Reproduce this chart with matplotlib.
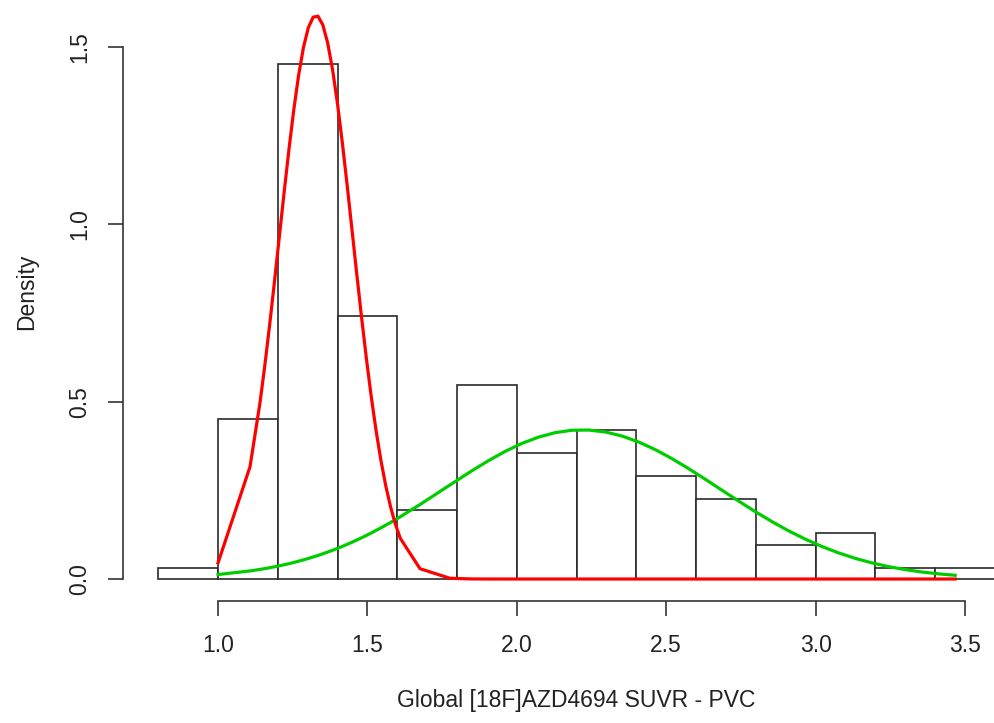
import numpy as np
import matplotlib
matplotlib.use("Agg")
import matplotlib.pyplot as plt

# histogram: bin edges and counts (n = 155, bin width 0.2)
edges = [0.8, 1.0, 1.2, 1.4, 1.6, 1.8, 2.0, 2.2, 2.4, 2.6, 2.8, 3.0, 3.2, 3.4, 3.6]
counts = [1, 14, 45, 23, 6, 17, 11, 13, 9, 7, 3, 4, 1, 1]

# fitted mixture components (mean, sd, weight)
red_comp = (1.328, 0.123, 0.49)
green_comp = (2.218, 0.46, 0.485)

# points where the fitted curves were evaluated
x_eval = np.concatenate([[1.0, 1.107], np.linspace(1.14, 1.61, 30),
                         [1.676, 1.776], np.linspace(1.85, 3.467, 30)])

xticks = [1.0, 1.5, 2.0, 2.5, 3.0, 3.5]
yticks = [0.0, 0.5, 1.0, 1.5]


def dens(x, comp):
    m, s, w = comp
    return w * np.exp(-0.5 * ((x - m) / s) ** 2) / (s * np.sqrt(2 * np.pi))


plt.rcParams['font.family'] = ['Liberation Sans', 'DejaVu Sans']

W, H = 995, 723
fig = plt.figure(figsize=(W / 100, H / 100), dpi=100)
# plot region in pixels: left 123, right 1029, bottom 601, top -15
ax = fig.add_axes([123 / W, (H - 601) / H, (1029 - 123) / W, (601 + 15) / H])
ax.set_xlim(0.682, 3.714)
ax.set_ylim(-0.062, 1.675)

n = sum(counts)
widths = np.diff(edges)
heights = np.array(counts) / (n * widths)
ax.bar(edges[:-1], heights, width=widths, align='edge', facecolor='white',
       edgecolor='#2a2a2a', linewidth=1.2, clip_on=False)

ax.plot(x_eval, dens(x_eval, green_comp), color='#00CD00', lw=2.3, clip_on=False)
ax.plot(x_eval, dens(x_eval, red_comp), color='#FF0000', lw=2.3, clip_on=False)

for s in ['top', 'right']:
    ax.spines[s].set_visible(False)
ax.spines['bottom'].set_bounds(1.0, 3.5)
ax.spines['left'].set_bounds(0.0, 1.5)
for s in ['bottom', 'left']:
    ax.spines[s].set_color('#333333')
    ax.spines[s].set_linewidth(1.2)

ax.set_xticks(xticks)
ax.set_xticklabels(['%.1f' % v for v in xticks])
ax.set_yticks(yticks)
ax.set_yticklabels(['%.1f' % v for v in yticks], rotation=90, va='center')
ax.tick_params(axis='both', length=10.8, width=1.2, color='#333333',
               labelsize=16.5, labelcolor='#222222')
ax.tick_params(axis='x', pad=13)
ax.tick_params(axis='y', pad=12)

fig.text(576 / W, 1 - 700 / H, 'Global [18F]AZD4694 SUVR - PVC', ha='center',
         va='center', fontsize=16.5, color='#222222')
fig.text(27 / W, 1 - 292 / H, 'Density', ha='center', va='center',
         rotation=90, fontsize=16.5, color='#222222')

fig.savefig('out.png', dpi=100)
